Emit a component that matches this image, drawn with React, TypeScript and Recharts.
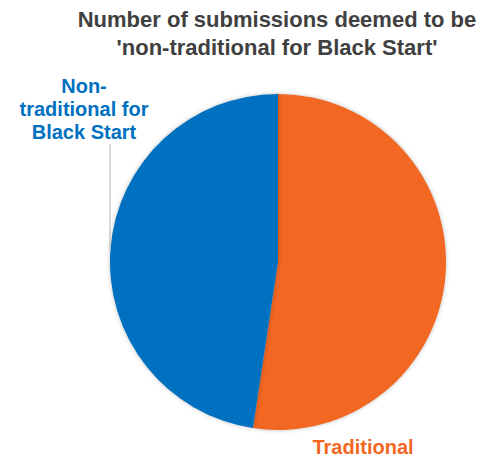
import { Cell, Pie, PieChart } from 'recharts';

const categories = ['Traditional', 'Non-traditional for Black Start'];
const counts = [11, 10];
const colors = ['#F26722', '#0070C0'];
const titleLines = ['Number of submissions deemed to be', "'non-traditional for Black Start'"];
const labelLines = [['Traditional'], ['Non-', 'traditional for', 'Black Start']];

const data = categories.map((name, i) => ({ name, value: counts[i] }));

const FONT = '"Liberation Sans", Arial, sans-serif';

function renderLabel(props: any) {
  const { cx, cy, outerRadius, index } = props;
  const color = colors[index];
  if (index === 0) {
    return (
      <text
        x={cx + 85}
        y={cy + 192}
        textAnchor="middle"
        fill={color}
        fontFamily={FONT}
        fontWeight="bold"
        fontSize={20}
      >
        {labelLines[0][0]}
      </text>
    );
  }
  const lx = cx - 194;
  const lines = labelLines[1];
  return (
    <g>
      {lines.map((t, i) => (
        <text
          key={t}
          x={lx}
          y={cy - 169 + i * 23}
          textAnchor="middle"
          fill={color}
          fontFamily={FONT}
          fontWeight="bold"
          fontSize={20}
        >
          {t}
        </text>
      ))}
      <line
        x1={cx - outerRadius}
        y1={cy - 118}
        x2={cx - outerRadius}
        y2={cy - 12}
        stroke="#BFBFBF"
        strokeWidth={1.2}
      />
    </g>
  );
}

export default function App() {
  return (
    <div style={{ position: 'absolute', left: 0, top: 0, width: 480, height: 459, background: '#fff' }}>
      <div
        style={{
          position: 'absolute',
          left: 57,
          width: 440,
          top: 6,
          textAlign: 'center',
          fontFamily: FONT,
          fontWeight: 'bold',
          fontSize: 22,
          lineHeight: '28px',
          color: '#404040',
        }}
      >
        {titleLines.map((t) => (
          <div key={t}>{t}</div>
        ))}
      </div>
      <PieChart
        width={480}
        height={459}
        margin={{ top: 0, right: 0, bottom: 0, left: 0 }}
        style={{ position: 'absolute', left: 0, top: 0 }}
      >
        <Pie
          data={data}
          dataKey="value"
          nameKey="name"
          cx={278}
          cy={262}
          outerRadius={168}
          startAngle={90}
          endAngle={-270}
          stroke="none"
          label={renderLabel}
          labelLine={false}
          isAnimationActive={false}
        >
          {data.map((d, i) => (
            <Cell key={d.name} fill={colors[i]} style={{ filter: 'drop-shadow(0 0 2px rgba(0,0,0,0.25))' }} />
          ))}
        </Pie>
      </PieChart>
    </div>
  );
}
